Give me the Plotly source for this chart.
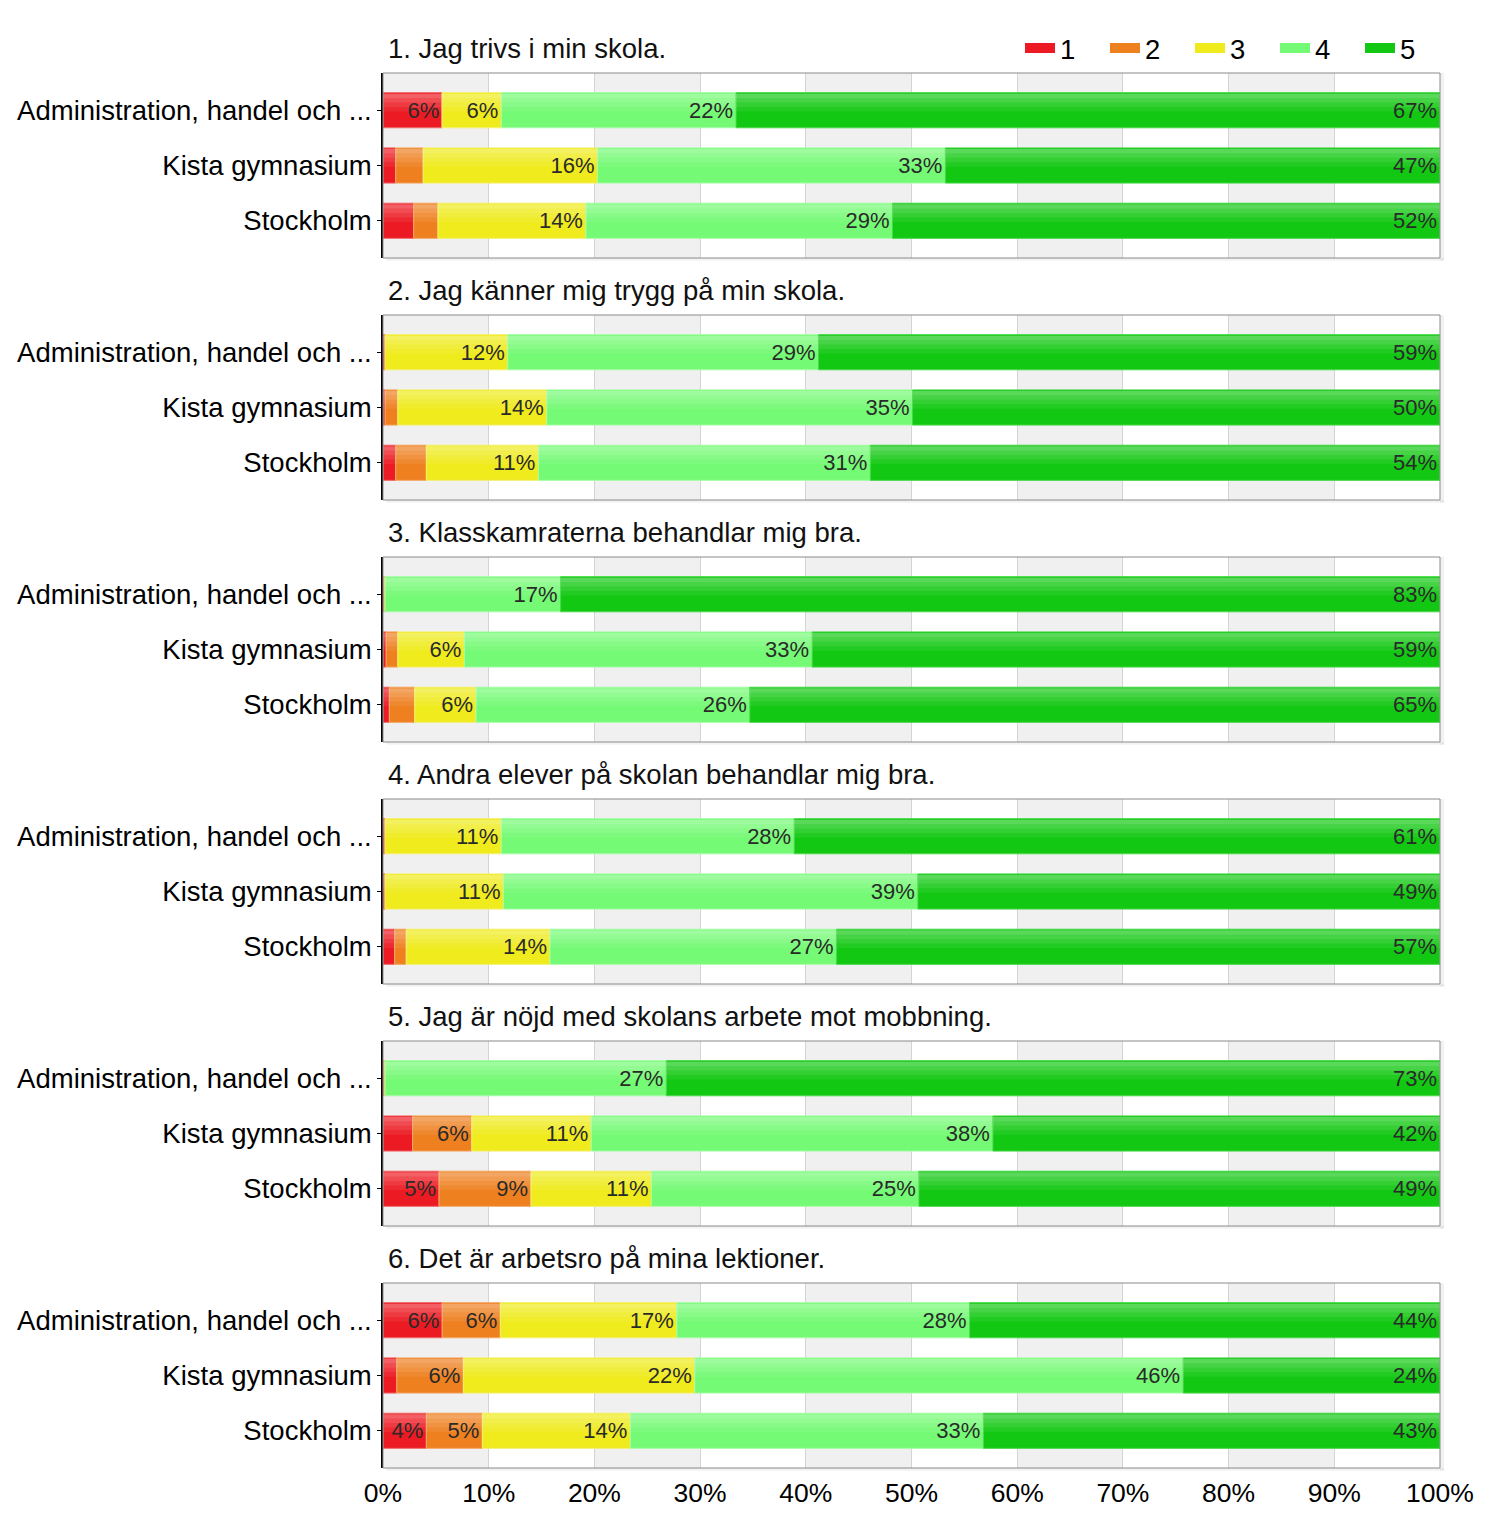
import plotly.graph_objects as go

categories = ["Administration, handel och ...", "Kista gymnasium", "Stockholm"]
levels = ["1", "2", "3", "4", "5"]
titles = [
    "1. Jag trivs i min skola.",
    "2. Jag känner mig trygg på min skola.",
    "3. Klasskamraterna behandlar mig bra.",
    "4. Andra elever på skolan behandlar mig bra.",
    "5. Jag är nöjd med skolans arbete mot mobbning.",
    "6. Det är arbetsro på mina lektioner.",
]
# values per question: rows = categories, columns = levels 1..5 (percent)
q1 = [[5.6, 0.0, 5.6, 22.2, 66.6], [1.2, 2.6, 16.5, 32.9, 46.8], [2.9, 2.3, 14.0, 29.0, 51.8]]
q2 = [[0.2, 0.0, 11.6, 29.4, 58.8], [0.2, 1.2, 14.1, 34.6, 49.9], [1.2, 2.9, 10.6, 31.4, 53.9]]
q3 = [[0.0, 0.2, 0.0, 16.6, 83.2], [0.3, 1.1, 6.3, 32.9, 59.4], [0.6, 2.4, 5.8, 25.9, 65.3]]
q4 = [[0.2, 0.0, 11.0, 27.7, 61.1], [0.2, 0.0, 11.2, 39.2, 49.4], [1.1, 1.1, 13.6, 27.1, 57.1]]
q5 = [[0.0, 0.2, 0.0, 26.6, 73.2], [2.8, 5.6, 11.3, 38.0, 42.3], [5.3, 8.7, 11.4, 25.3, 49.3]]
q6 = [[5.6, 5.5, 16.7, 27.7, 44.5], [1.3, 6.3, 21.9, 46.2, 24.3], [4.1, 5.3, 14.0, 33.4, 43.2]]
questions = [q1, q2, q3, q4, q5, q6]
x_ticks = [0, 10, 20, 30, 40, 50, 60, 70, 80, 90, 100]
x_ticklabels = [f"{t}%" for t in x_ticks]

colors = ["#ec1a22", "#ee8020", "#efeb1c", "#74fa74", "#12c812"]
line_colors = ["#f06a6a", "#f4a868", "#f4f070", "#a8fca8", "#48d848"]

# the page body has an 8px margin: figure pixel = page pixel - 8
OFF = 8
W, H = 1500 - OFF, 1525 - OFF
FONT = "Liberation Sans, Arial, sans-serif"
px_l, px_r = 383 - OFF, 1440 - OFF
panel_top0, panel_h, panel_step = 73 - OFF, 185, 242
BW = 0.636  # bar thickness in category units

fig = go.Figure()
layout = dict(
    width=W, height=H,
    margin=dict(l=0, r=0, t=0, b=0, autoexpand=False),
    paper_bgcolor="white", plot_bgcolor="white",
    font=dict(family=FONT, size=27.5, color="#000"),
    barmode="overlay", bargap=1 - BW,
    showlegend=True,
    legend=dict(orientation="h", x=(1020 - OFF) / W, y=1 - (48 - OFF) / H,
                xanchor="left", yanchor="middle",
                font=dict(size=27.5), traceorder="normal",
                entrywidth=40, entrywidthmode="pixels",
                bgcolor="rgba(0,0,0,0)"),
)
shapes = []
annotations = []

# legend entries (wide swatches)
for k, lev in enumerate(levels):
    fig.add_trace(go.Scatter(
        x=[None], y=[None], mode="lines", name=lev, legendgroup=lev,
        line=dict(color=colors[k], width=16), hoverinfo="skip", showlegend=True,
    ))

gloss = [(0.02, 0.08, 0.30), (0.10, 0.08, 0.22), (0.18, 0.08, 0.14), (0.26, 0.08, 0.07)]

for p, (q, title) in enumerate(zip(questions, titles)):
    idx = "" if p == 0 else str(p + 1)
    xa, ya = "x" + idx, "y" + idx
    top = panel_top0 + p * panel_step
    bot = top + panel_h
    dom_y = [1 - bot / H, 1 - top / H]
    bases = [0.0] * len(categories)
    for k, lev in enumerate(levels):
        vals = [row[k] for row in q]
        texts = [f"{round(v):.0f}%" if v >= 3.5 else "" for v in vals]
        fig.add_trace(go.Bar(
            x=vals, y=categories, base=list(bases), orientation="h", name=lev,
            xaxis=xa, yaxis=ya, width=BW,
            marker=dict(color=colors[k], line=dict(color=line_colors[k], width=1)),
            legendgroup=lev, showlegend=False, hoverinfo="skip",
        ))
        # gloss overlays (upper part lighter)
        for off, wd, a in gloss:
            fig.add_trace(go.Bar(
                x=vals, y=categories, base=list(bases), orientation="h",
                xaxis=xa, yaxis=ya, width=wd, offset=-BW / 2 + off,
                marker=dict(color=f"rgba(255,255,255,{a})", line=dict(width=0)),
                showlegend=False, hoverinfo="skip", legendgroup=lev,
            ))
        # value labels on top
        fig.add_trace(go.Bar(
            x=vals, y=categories, base=list(bases), orientation="h",
            xaxis=xa, yaxis=ya, width=BW,
            marker=dict(color="rgba(0,0,0,0)", line=dict(width=0)),
            text=texts, textposition="inside", insidetextanchor="end",
            textangle=0, textfont=dict(size=22, color="#2a2a2a", family=FONT),
            showlegend=False, hoverinfo="skip", legendgroup=lev,
        ))
        bases = [b + v for b, v in zip(bases, vals)]
    layout["xaxis" + idx] = dict(
        domain=[px_l / W, px_r / W], anchor=ya, range=[0, 100],
        tickvals=x_ticks, ticktext=x_ticklabels, automargin=False,
        showticklabels=(p == 5), ticks="", showgrid=True,
        gridcolor="#d4d4d4", gridwidth=1, zeroline=False, showline=False,
        tickfont=dict(size=26.5), ticklabelstandoff=6,
    )
    layout["yaxis" + idx] = dict(
        domain=dom_y, anchor=xa, type="category", automargin=False,
        range=[2.673, -0.673], showgrid=False, zeroline=False,
        showline=True, linecolor="#000", linewidth=1.5,
        ticks="outside", ticklen=4, tickcolor="#000",
        tickfont=dict(size=27.5), ticklabelstandoff=0,
    )
    # alternating stripes
    for s in range(0, 100, 20):
        shapes.append(dict(type="rect", xref=xa, yref=ya + " domain", x0=s, x1=s + 10,
                           y0=0, y1=1, fillcolor="#f0f0f0", line=dict(width=0), layer="below"))
    # shadow right & bottom
    shapes.append(dict(type="rect", xref=xa + " domain", yref=ya + " domain",
                       x0=1, x1=1.004, y0=-0.015, y1=1.0, fillcolor="rgba(0,0,0,0.05)",
                       line=dict(width=0), layer="below"))
    shapes.append(dict(type="rect", xref=xa + " domain", yref=ya + " domain",
                       x0=0.003, x1=1.004, y0=-0.015, y1=0, fillcolor="rgba(0,0,0,0.05)",
                       line=dict(width=0), layer="below"))
    # border
    shapes.append(dict(type="rect", xref=xa + " domain", yref=ya + " domain",
                       x0=0, x1=1, y0=0, y1=1, fillcolor="rgba(0,0,0,0)",
                       line=dict(color="#8a8a8a", width=1), layer="above"))
    annotations.append(dict(text=title, xref="paper", yref="paper",
                            x=(386 - OFF) / W, y=1 - (top - 25) / H,
                            xanchor="left", yanchor="middle",
                            showarrow=False, font=dict(size=27.5, color="#111")))

layout["shapes"] = shapes
layout["annotations"] = annotations
fig.update_layout(**layout)
fig.write_html("out.html")
